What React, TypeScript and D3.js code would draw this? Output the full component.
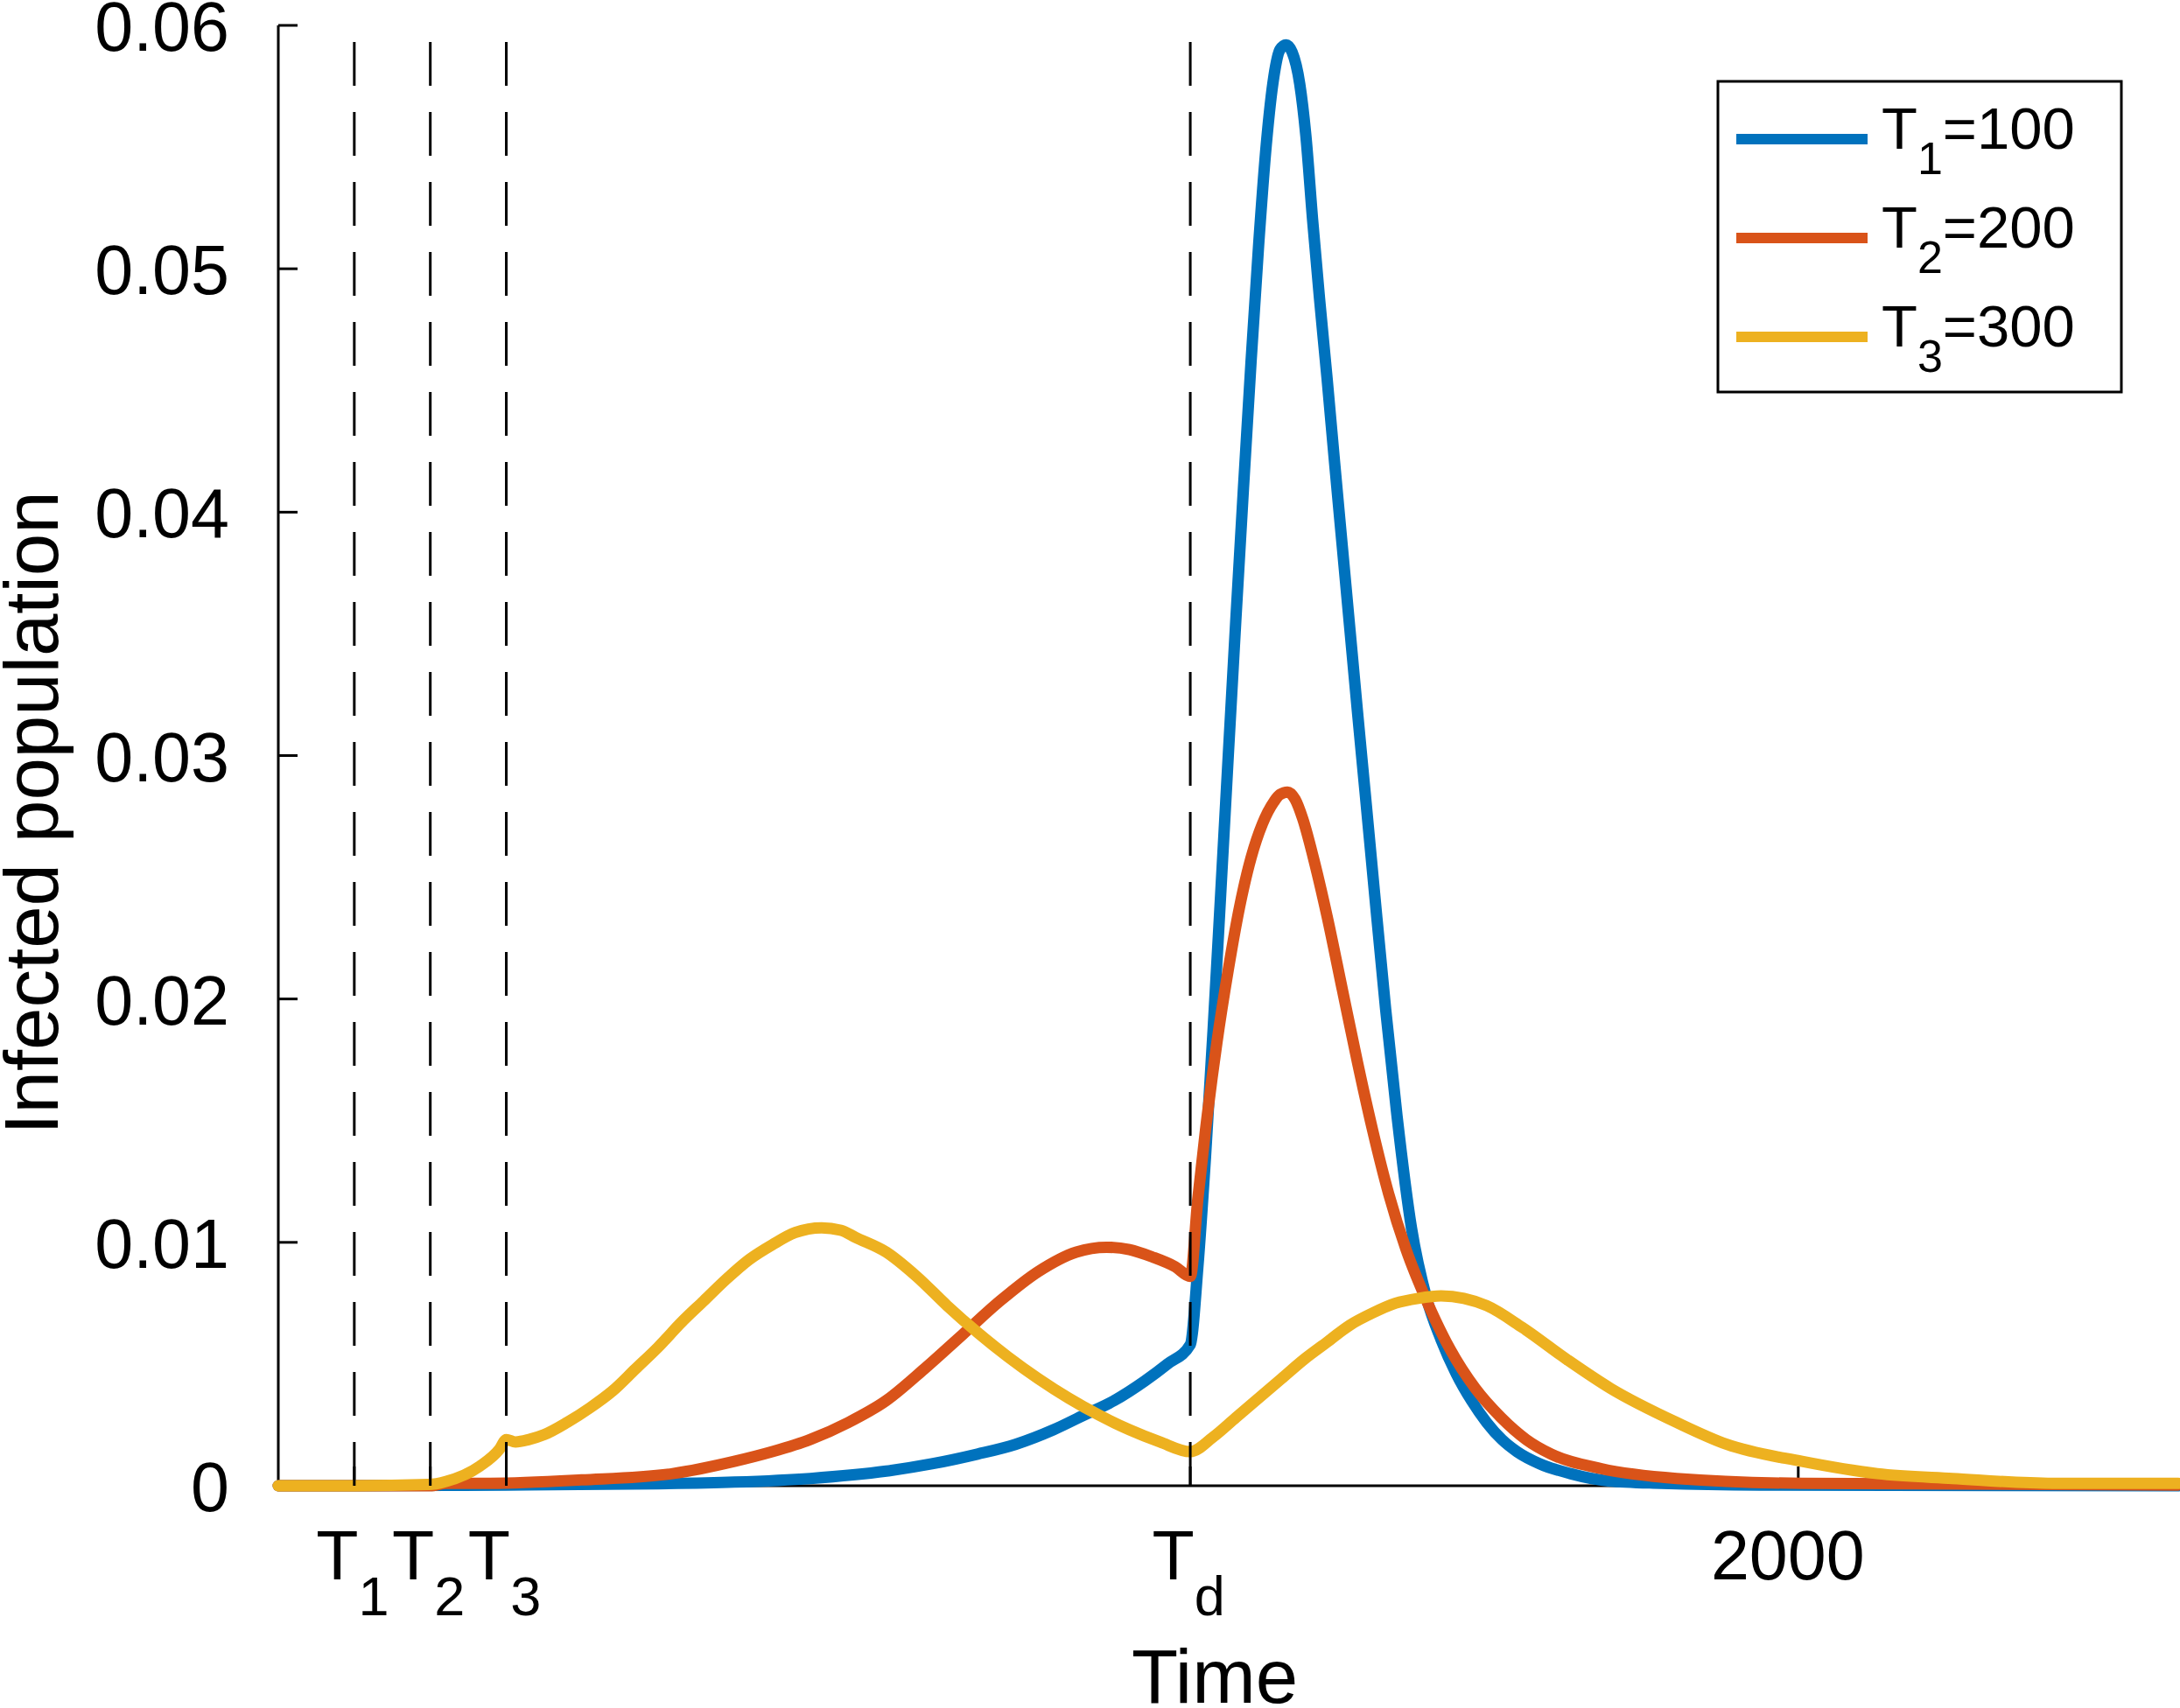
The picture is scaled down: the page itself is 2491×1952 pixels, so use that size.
import React from "react";
import * as d3 from "d3";

// ---------- data ----------
const seriesNames = ["T1=100", "T2=200", "T3=300"];
const legendMain = ["T", "T", "T"];
const legendSub = ["1", "2", "3"];
const legendRest = ["=100", "=200", "=300"];
const colors = ["#0072BD", "#D95319", "#EDB120"];

const blueT = [0, 100, 300, 500, 600, 700, 800, 860, 920, 970, 1020, 1060, 1100, 1140, 1170, 1200, 1210, 1220, 1230, 1240, 1250, 1260, 1270, 1280, 1290, 1300, 1310, 1318, 1326, 1334, 1344, 1352, 1361, 1370, 1380, 1390, 1400, 1410, 1420, 1430, 1442, 1457, 1472, 1491, 1511, 1530, 1550, 1570, 1590, 1610, 1630, 1660, 1700, 1750, 1820, 1950, 2500];
const blueV = [0, 0, 0.00003, 0.00008, 0.00015, 0.0003, 0.0006, 0.0009, 0.0013, 0.0017, 0.0023, 0.0029, 0.0035, 0.0043, 0.005, 0.0058, 0.009, 0.0135, 0.0187, 0.0243, 0.03, 0.0356, 0.041, 0.0462, 0.051, 0.0551, 0.0579, 0.059, 0.0592, 0.0589, 0.0576, 0.0555, 0.052, 0.0488, 0.0455, 0.042, 0.0386, 0.0352, 0.0318, 0.0285, 0.0245, 0.0196, 0.0152, 0.0106, 0.0077, 0.006, 0.0046, 0.0035, 0.0026, 0.0019, 0.0014, 0.0009, 0.0005, 0.0002, 0.0001, 0.00003, 0];

const redT = [0, 200, 221, 279, 399, 519, 600, 650, 700, 750, 800, 850, 900, 950, 1000, 1050, 1090, 1120, 1150, 1180, 1200, 1210, 1220, 1235, 1250, 1265, 1280, 1295, 1310, 1318, 1328, 1338, 1348, 1362, 1380, 1400, 1420, 1440, 1461, 1484, 1511, 1542, 1575, 1609, 1642, 1675, 1741, 1840, 2005, 2500];
const redV = [0, 0, 0.0001, 0.0001, 0.00024, 0.0005, 0.001, 0.0014, 0.0019, 0.0026, 0.0035, 0.0048, 0.0062, 0.0076, 0.0088, 0.0096, 0.0098, 0.0097, 0.0094, 0.009, 0.0086, 0.0118, 0.0146, 0.0182, 0.0212, 0.0238, 0.0258, 0.0272, 0.0281, 0.0284, 0.0285, 0.0282, 0.0274, 0.0258, 0.0234, 0.0204, 0.0174, 0.0146, 0.012, 0.0097, 0.0076, 0.0056, 0.004, 0.0028, 0.0019, 0.0013, 0.0007, 0.0003, 0.0001, 0.00003];

const yellowT = [0, 100, 198, 221, 265, 291, 300, 312, 330, 350, 380, 410, 440, 470, 500, 530, 560, 590, 620, 650, 680, 715, 740, 760, 800, 840, 880, 920, 960, 1000, 1040, 1080, 1120, 1160, 1200, 1230, 1260, 1290, 1320, 1350, 1380, 1410, 1440, 1470, 1500, 1530, 1560, 1590, 1637, 1695, 1753, 1840, 1906, 2005, 2104, 2203, 2335, 2500];
const yellowV = [0, 0, 0.00005, 0.00018, 0.0008, 0.0015, 0.0019, 0.0018, 0.0019, 0.0021, 0.0026, 0.0032, 0.0039, 0.0048, 0.0057, 0.0067, 0.0076, 0.0085, 0.0093, 0.0099, 0.0104, 0.0106, 0.0105, 0.0102, 0.0096, 0.0086, 0.0074, 0.0063, 0.0053, 0.0044, 0.0036, 0.0029, 0.0023, 0.0018, 0.0014, 0.002, 0.0028, 0.0036, 0.0044, 0.0052, 0.0059, 0.0066, 0.0071, 0.0075, 0.0077, 0.0078, 0.0077, 0.0074, 0.0065, 0.0052, 0.004, 0.0026, 0.0017, 0.001, 0.0005, 0.0003, 0.0001, 0.0001];

const seriesT = [blueT, redT, yellowT];
const seriesV = [blueV, redV, yellowV];

const xTicks = [100, 200, 300, 1200, 2000];
const xTickMain = ["T", "T", "T", "T", "2000"];
const xTickSub = ["1", "2", "3", "d", ""];
const yTicks = [0, 0.01, 0.02, 0.03, 0.04, 0.05, 0.06];
const yTickLabels = ["0", "0.01", "0.02", "0.03", "0.04", "0.05", "0.06"];
const markerTimes = [100, 200, 300, 1200];

const xDomain = [0, 2500];
const yDomain = [0, 0.06];

// ---------- layout ----------
const W = 2491;
const H = 1952;
const FONT = "'Liberation Sans', Arial, Helvetica, sans-serif";

export default function App() {
  const x = d3.scaleLinear().domain(xDomain).range([318, 2489]);
  const y = d3.scaleLinear().domain(yDomain).range([1698, 29]);

  const line = d3
    .line<[number, number]>()
    .x((d) => x(d[0]))
    .y((d) => y(d[1]))
    .curve(d3.curveMonotoneX);

  const tickLen = 22;
  const tickFont = 79;
  const subFont = 63;

  return (
    <svg
      width={W}
      height={H}
      viewBox={`0 0 ${W} ${H}`}
      style={{ position: "absolute", left: 0, top: 0, background: "#fff" }}
      fontFamily={FONT}
    >
      <rect x={0} y={0} width={W} height={H} fill="#fff" />

      {/* axes */}
      <line x1={x(0)} x2={x(0)} y1={y(0)} y2={y(0.06)} stroke="#000" strokeWidth={3} />
      <line x1={x(0)} x2={x(2500)} y1={y(0)} y2={y(0)} stroke="#000" strokeWidth={3} />
      {yTicks.map((t, i) => (
        <g key={"yt" + i}>
          <line x1={x(0)} x2={x(0) + tickLen} y1={y(t)} y2={y(t)} stroke="#000" strokeWidth={3} />
          <text x={262} y={y(t) + 29} fontSize={tickFont} textAnchor="end" fill="#000">
            {yTickLabels[i]}
          </text>
        </g>
      ))}
      {xTicks.map((t, i) => (
        <g key={"xt" + i}>
          <line x1={x(t)} x2={x(t)} y1={y(0)} y2={y(0) - tickLen} stroke="#000" strokeWidth={3} />
          <text
            x={x(t) + (xTickSub[i] ? -2 : -12)}
            y={1805}
            fontSize={tickFont}
            textAnchor="middle"
            fill="#000"
          >
            {xTickMain[i]}
            {xTickSub[i] ? (
              <tspan fontSize={subFont} dy={41}>
                {xTickSub[i]}
              </tspan>
            ) : null}
          </text>
        </g>
      ))}

      {/* curves */}
      {seriesT.map((ts, si) => {
        const pts: [number, number][] = ts.map((t, k) => [t, seriesV[si][k]]);
        return (
          <path
            key={seriesNames[si]}
            d={line(pts) || ""}
            fill="none"
            stroke={colors[si]}
            strokeWidth={13}
            strokeLinejoin="round"
            strokeLinecap="round"
          />
        );
      })}

      {/* dashed marker lines */}
      {markerTimes.map((t, i) => (
        <line
          key={"m" + i}
          x1={x(t)}
          x2={x(t)}
          y1={y(0)}
          y2={y(0.06)}
          stroke="#000"
          strokeWidth={3}
          strokeDasharray="50 30"
        />
      ))}

      {/* axis labels */}
      <text x={1388} y={1946} fontSize={87} textAnchor="middle" fill="#000">
        Time
      </text>
      <text
        transform={`translate(66, 929) rotate(-90)`}
        fontSize={87}
        textAnchor="middle"
        fill="#000"
      >
        Infected population
      </text>

      {/* legend */}
      <rect x={1963} y={93} width={461} height={355} fill="#fff" stroke="#000" strokeWidth={3} />
      {seriesNames.map((n, i) => {
        const ly = 159 + 113 * i;
        return (
          <g key={"lg" + i}>
            <line x1={1984} x2={2134} y1={ly} y2={ly} stroke={colors[i]} strokeWidth={12} />
            <text x={2150} y={ly + 11} fontSize={67} fill="#000">
              {legendMain[i]}
              <tspan fontSize={52} dy={29}>
                {legendSub[i]}
              </tspan>
              <tspan fontSize={67} dy={-29}>
                {legendRest[i]}
              </tspan>
            </text>
          </g>
        );
      })}
    </svg>
  );
}
